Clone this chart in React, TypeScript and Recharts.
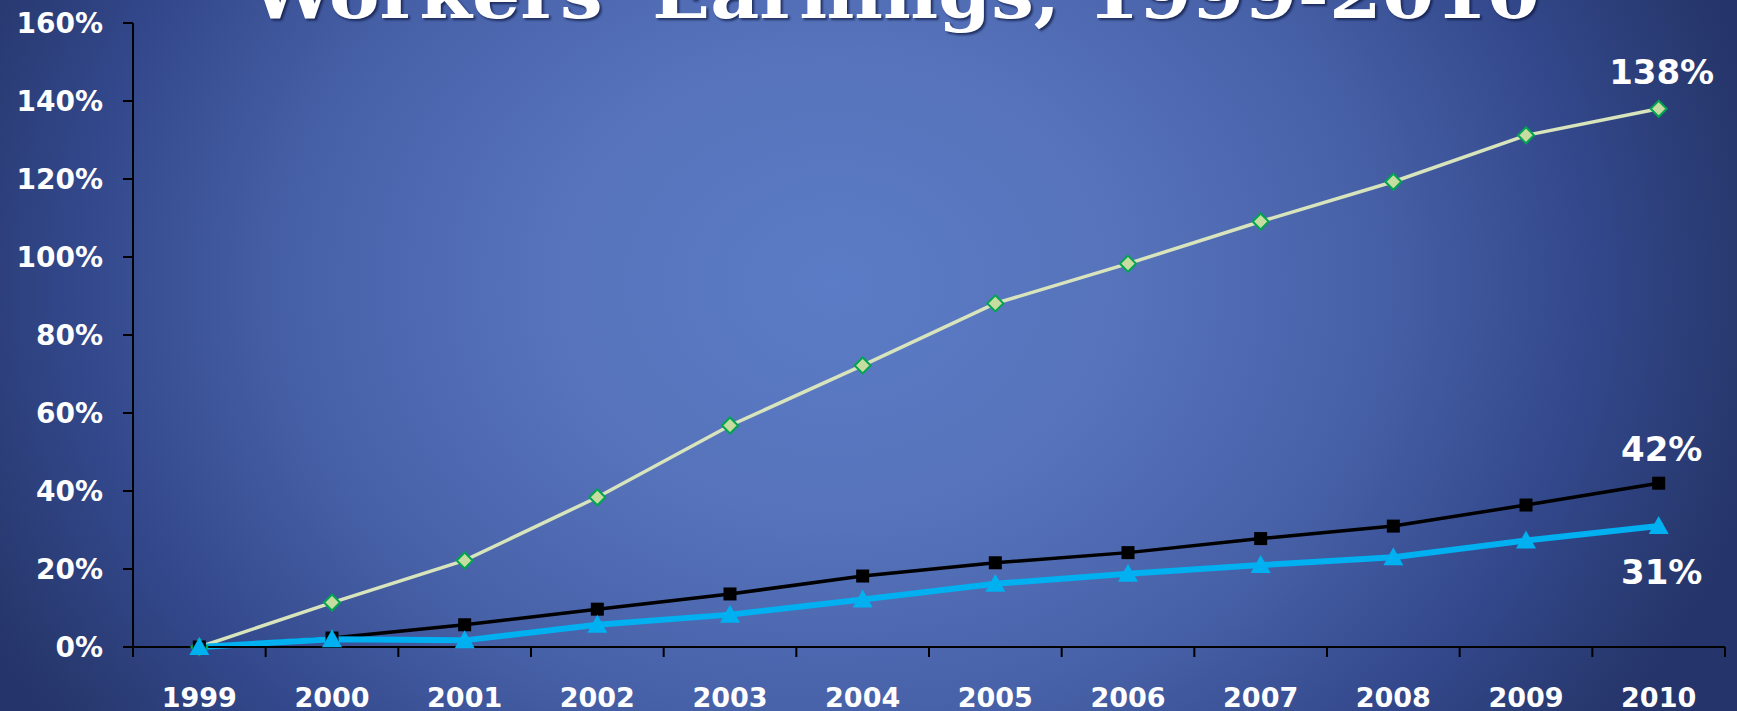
import React from "react";
import { LineChart, Line, XAxis, YAxis, LabelList } from "recharts";

// Percent change since 1999.
const YEARS = ["1999", "2000", "2001", "2002", "2003", "2004", "2005", "2006", "2007", "2008", "2009", "2010"];
const PREMIUMS = [0, 11.4, 22.2, 38.4, 56.8, 72.2, 88.1, 98.3, 109.1, 119.3, 131.2, 138];
const EARNINGS = [0, 2.3, 5.7, 9.7, 13.6, 18.2, 21.6, 24.2, 27.8, 31, 36.4, 42];
const INFLATION = [0, 2.0, 1.7, 5.7, 8.3, 12.2, 16.2, 18.8, 21.0, 23.0, 27.3, 31];
const Y_TICKS = [0, 20, 40, 60, 80, 100, 120, 140, 160];
const TITLE = "Workers' Earnings, 1999-2010";

const WIDTH = 1737;
const HEIGHT = 711;
const LABEL_FONT = "'DejaVu Sans', Verdana, sans-serif";

const data = YEARS.map((year, i) => ({
  x: i,
  year,
  premiums: PREMIUMS[i],
  earnings: EARNINGS[i],
  inflation: INFLATION[i],
}));

// Labels sit in the middle of each category, tick marks on the boundaries
// (Excel's "between tick marks" look), so ask for both and sort them in the tick.
const X_TICKS: number[] = [];
for (let i = 0; i <= YEARS.length * 2; i++) X_TICKS.push(i / 2 - 0.5);

function XTick(props: any) {
  const { x, y, payload } = props;
  const v = Number(payload.value);
  if (!Number.isInteger(v)) {
    return <line x1={x} x2={x} y1={y} y2={y + 10} stroke="#000" strokeWidth={2} />;
  }
  return (
    <text
      x={x}
      y={y + 60}
      textAnchor="middle"
      fill="#fff"
      fontFamily={LABEL_FONT}
      fontWeight="bold"
      fontSize={27}
    >
      {YEARS[v]}
    </text>
  );
}

function Diamond(props: any) {
  const { cx, cy } = props;
  if (cx == null || cy == null) return null;
  const r = 8;
  return (
    <polygon
      points={`${cx},${cy - r} ${cx + r},${cy} ${cx},${cy + r} ${cx - r},${cy}`}
      fill="#c6dca0"
      stroke="#00a550"
      strokeWidth={2}
    />
  );
}

function Square(props: any) {
  const { cx, cy } = props;
  if (cx == null || cy == null) return null;
  return <rect x={cx - 6.5} y={cy - 6.5} width={13} height={13} fill="#000" />;
}

function Triangle(props: any) {
  const { cx, cy } = props;
  if (cx == null || cy == null) return null;
  return (
    <polygon
      points={`${cx},${cy - 10} ${cx + 10},${cy + 8} ${cx - 10},${cy + 8}`}
      fill="#00b0f0"
    />
  );
}

// Only the 2010 value gets a label; dy moves it above or below the marker.
function endLabel(dy: number) {
  return (props: any) => {
    const { x, y, value, index } = props;
    if (index !== YEARS.length - 1) return null;
    return (
      <text
        x={Number(x) + 3}
        y={Number(y) + dy}
        textAnchor="middle"
        fill="#fff"
        fontFamily={LABEL_FONT}
        fontWeight="bold"
        fontSize={34}
      >
        {`${Math.round(Number(value))}%`}
      </text>
    );
  };
}

export default function App() {
  return (
    <div
      style={{
        position: "absolute",
        left: 0,
        top: 0,
        width: WIDTH,
        height: HEIGHT,
        overflow: "hidden",
        background:
          "radial-gradient(ellipse 55% 110% at 48% 40%, #5b7cc6 0%, #5673bb 30%, #4862a9 55%, #32478a 80%, #28396f 95%, #25346b 100%)",
      }}
    >
      <svg
        width={WIDTH}
        height={HEIGHT}
        style={{ position: "absolute", left: 0, top: 0, pointerEvents: "none" }}
      >
        <text
          x={250}
          y={18}
          textLength={1290}
          lengthAdjust="spacingAndGlyphs"
          fill="#fff"
          fontFamily="'DejaVu Serif', 'Liberation Serif', serif"
          fontWeight="bold"
          fontSize={70}
          style={{ filter: "drop-shadow(2px 2px 1px rgba(10, 20, 60, 0.7))" }}
        >
          {TITLE}
        </text>
      </svg>
      <LineChart
        width={WIDTH}
        height={HEIGHT}
        data={data}
        margin={{ top: 23, right: 12, bottom: 0, left: 0 }}
        style={{ position: "absolute", left: 0, top: 0 }}
      >
        <XAxis
          dataKey="x"
          type="number"
          domain={[-0.5, YEARS.length - 0.5]}
          ticks={X_TICKS}
          interval={0}
          height={64}
          tickLine={false}
          tickSize={0}
          tickMargin={0}
          axisLine={{ stroke: "#000", strokeWidth: 2 }}
          tick={<XTick />}
        />
        <YAxis
          domain={[0, 160]}
          ticks={Y_TICKS}
          interval={0}
          width={133}
          tickSize={10}
          tickMargin={20}
          tickFormatter={(v) => `${v}%`}
          axisLine={{ stroke: "#000", strokeWidth: 2 }}
          tickLine={{ stroke: "#000", strokeWidth: 2 }}
          tick={{ fill: "#fff", fontFamily: LABEL_FONT, fontWeight: "bold", fontSize: 28 }}
        />
        <Line
          dataKey="premiums"
          name="Health Insurance Premiums"
          stroke="#d8e4bc"
          strokeWidth={3.5}
          dot={<Diamond />}
          activeDot={false}
          isAnimationActive={false}
        >
          <LabelList dataKey="premiums" content={endLabel(-25)} />
        </Line>
        <Line
          dataKey="earnings"
          name="Workers' Earnings"
          stroke="#000"
          strokeWidth={3.5}
          dot={<Square />}
          activeDot={false}
          isAnimationActive={false}
        >
          <LabelList dataKey="earnings" content={endLabel(-22)} />
        </Line>
        <Line
          dataKey="inflation"
          name="Overall Inflation"
          stroke="#00b0f0"
          strokeWidth={6}
          dot={<Triangle />}
          activeDot={false}
          isAnimationActive={false}
        >
          <LabelList dataKey="inflation" content={endLabel(58)} />
        </Line>
      </LineChart>
    </div>
  );
}
